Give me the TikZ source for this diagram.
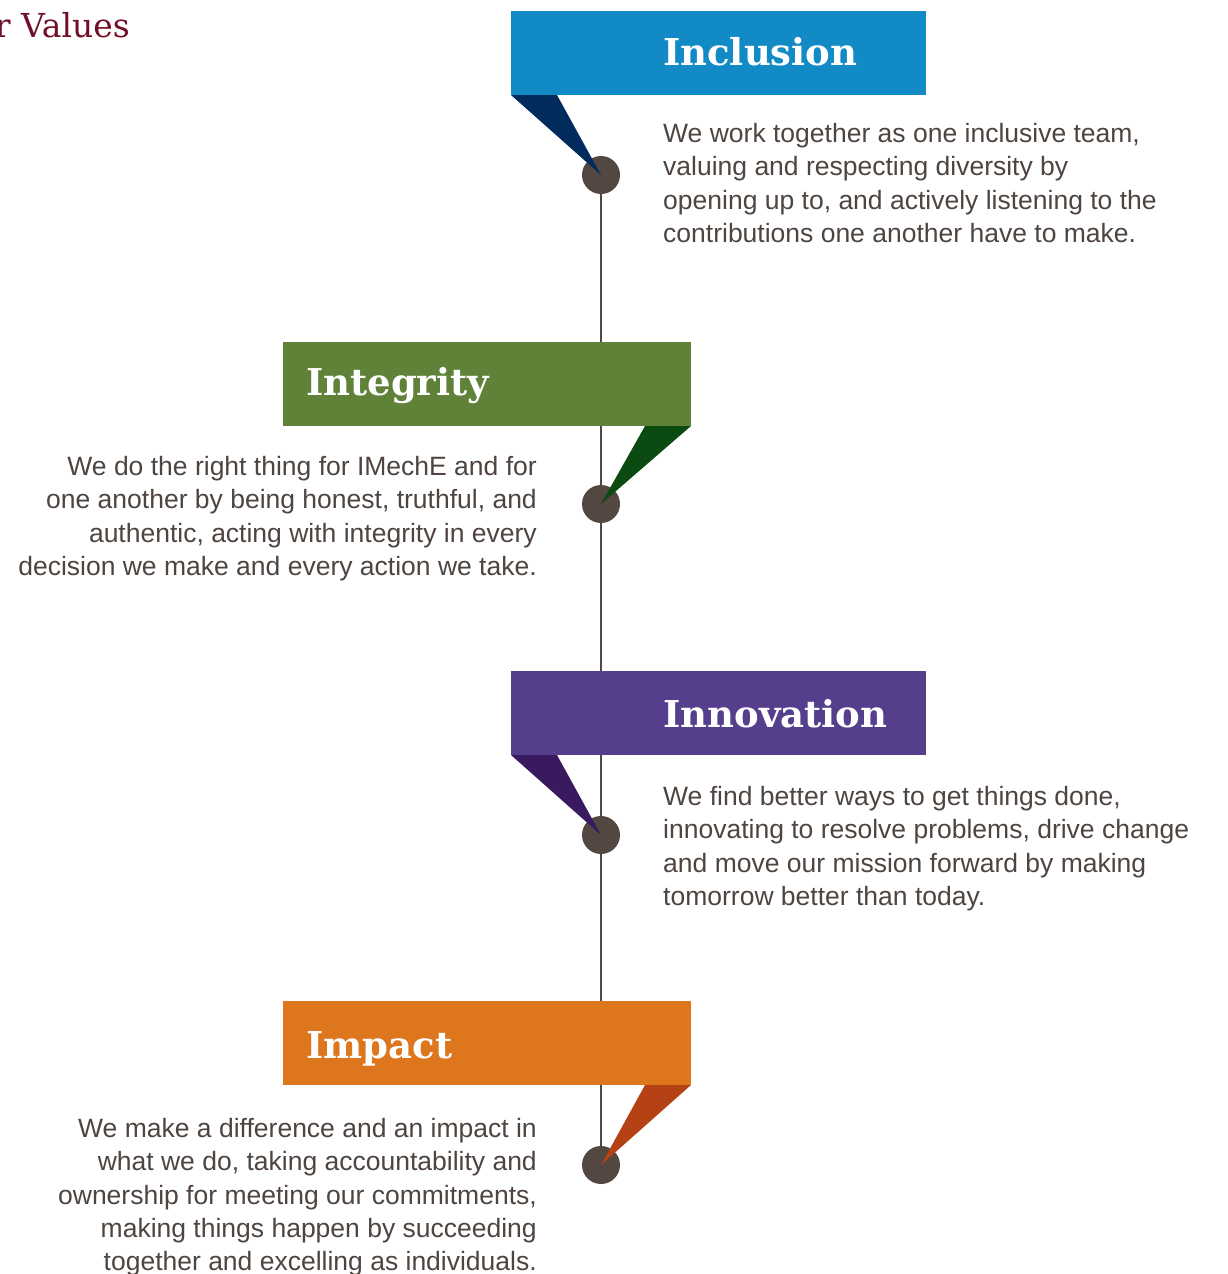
\documentclass[tikz,border=0pt]{standalone}
\usepackage{fontspec}
\setmainfont{Liberation Sans}
\newfontfamily\slabfont{DejaVu Serif}
\usepackage{xcolor}
\usetikzlibrary{calc}

\definecolor{incblue}{HTML}{118AC6}
\definecolor{incdark}{HTML}{002B5C}
\definecolor{intgreen}{HTML}{5F8238}
\definecolor{intdark}{HTML}{0B4A10}
\definecolor{innpurple}{HTML}{553F8C}
\definecolor{inndark}{HTML}{3A1A5E}
\definecolor{imporange}{HTML}{DE761E}
\definecolor{impdark}{HTML}{B44214}
\definecolor{stem}{HTML}{534741}
\definecolor{bodytext}{HTML}{4E4440}
\definecolor{titlered}{HTML}{701028}

\begin{document}
\begin{tikzpicture}[x=1pt,y=-1pt,
    band/.style={anchor=north west, minimum height=84pt, inner sep=0pt, outer sep=0pt},
    value/.style={anchor=base west, text=white, inner sep=0pt,
      font=\slabfont\bfseries\fontsize{37}{37}\selectfont},
    blurb/.style={text=bodytext, inner sep=0pt,
      font=\fontsize{26.5}{33.3}\selectfont},
    dot/.style={circle, fill=stem, minimum size=38pt, inner sep=0pt}]

      \useasboundingbox (0,0) rectangle (1227,1274);

      \node[anchor=base east, text=titlered, inner sep=0pt,
        font=\slabfont\fontsize{33}{33}\selectfont] (title) at (130,37) {r Values};

      % dots on the stem
      \foreach \n/\y in {1/175,2/504,3/835,4/1165}
        \node[dot] (d\n) at (601,\y) {};
      \draw[stem, line width=2pt] (d1.center) -- (d4.center);

      % coloured bands
      \node[band, fill=incblue, minimum width=415pt] (inc) at (511,11) {};
      \node[band, fill=intgreen, minimum width=408pt] (int) at (283,342) {};
      \node[band, fill=innpurple, minimum width=415pt] (inn) at (511,671) {};
      \node[band, fill=imporange, minimum width=408pt] (imp) at (283,1001) {};

      % pointers
      \fill[incdark] (inc.south west) -- ($(inc.south west)+(46,0)$) -- (d1.center) -- cycle;
      \fill[intdark] (int.south east) -- ($(int.south east)+(-46,0)$) -- (d2.center) -- cycle;
      \fill[inndark] (inn.south west) -- ($(inn.south west)+(46,0)$) -- (d3.center) -- cycle;
      \fill[impdark] (imp.south east) -- ($(imp.south east)+(-46,0)$) -- (d4.center) -- cycle;

      \node[value] (incname) at (663,65) {Inclusion};
      \node[value] (intname) at (306,395) {Integrity};
      \node[value] (innname) at (663,727) {Innovation};
      \node[value] (impname) at (306,1058) {Impact};

      \node[blurb, anchor=north west, align=left] (inctext) at (663,123) {We work together as one inclusive team,\\
        valuing and respecting diversity by\\
        opening up to, and actively listening to the\\
        contributions one another have to make.};
      \node[blurb, anchor=north east, align=right] (inttext) at (537,456) {We do the right thing for IMechE and for\\
        one another by being honest, truthful, and\\
        authentic, acting with integrity in every\\
        decision we make and every action we take.};
      \node[blurb, anchor=north west, align=left] (inntext) at (663,786) {We find better ways to get things done,\\
        innovating to resolve problems, drive change\\
        and move our mission forward by making\\
        tomorrow better than today.};
      \node[blurb, anchor=north east, align=right] (imptext) at (537,1118) {We make a difference and an impact in\\
        what we do, taking accountability and\\
        ownership for meeting our commitments,\\
        making things happen by succeeding\\
        together and excelling as individuals.};
    \end{tikzpicture}
\end{document}
